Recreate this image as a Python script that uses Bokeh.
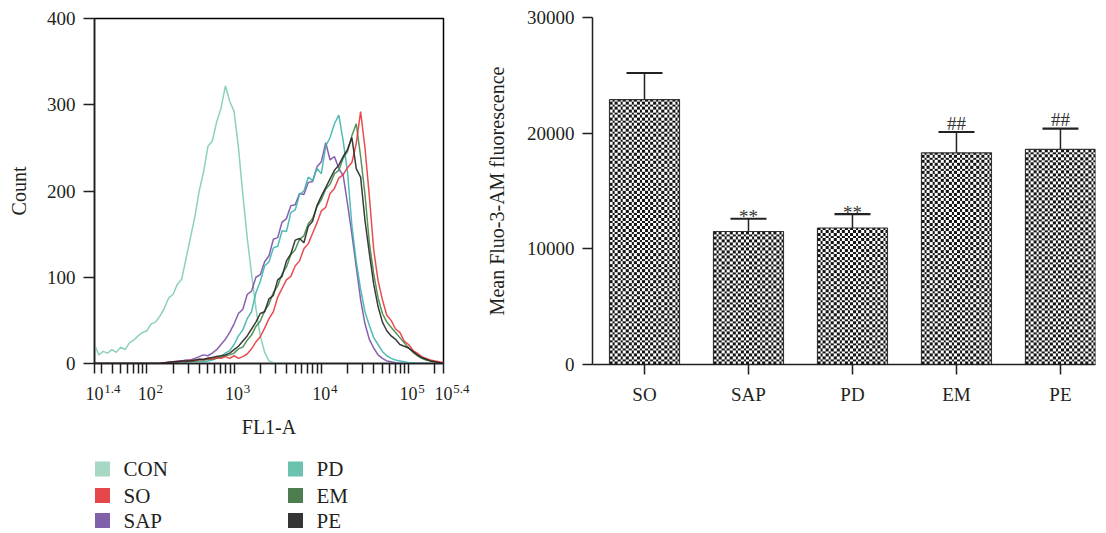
import numpy as np
from bokeh.plotting import figure
from bokeh.layouts import row, column
from bokeh.models import FixedTicker, Range1d, ColumnDataSource, Whisker, TeeHead, LogAxis
from bokeh.embed import file_html
from bokeh.resources import INLINE
from bokeh.core.properties import value

FONT = "Liberation Serif"
INK = "#231f20"
NBSP = "\u00a0"

# ---------------- Flow cytometry histogram (FL1-A, log10 bin centres) ----------------
fl1_log10 = [round(1.40 + 0.05 * i, 2) for i in range(81)]

con = [22, 10, 14, 12, 16, 13, 19, 16, 24, 27, 32, 36, 38, 46, 48, 55, 64, 76, 80, 92,
       98, 122, 146, 170, 200, 222, 252, 258, 280, 296, 322, 304, 292, 250, 196, 146,
       104, 64, 32, 13, 3, 1] + [0] * 39
so = [0] * 16 + [1, 1, 2, 2, 3, 2, 4, 3, 5, 4, 6, 5, 7, 6, 8, 6,
                 9, 6, 8, 11, 17, 25, 31, 41, 52, 60, 77, 87, 97, 101, 113, 119, 133, 139, 151, 163,
                 177, 181, 197, 203, 215, 219, 227, 233, 255, 292, 250, 194, 132, 96, 74, 56, 50, 40, 36, 26,
                 22, 15, 12, 8, 6, 4, 3, 2, 1]
sap = [0] * 16 + [1, 2, 2, 3, 3, 4, 4, 6, 8, 10, 9, 12, 16, 22, 28, 36,
                  46, 58, 63, 80, 84, 100, 103, 118, 125, 144, 146, 164, 168, 183, 184, 197, 196, 210, 211, 228,
                  234, 256, 236, 240, 226, 218, 185, 150, 112, 74, 46, 28, 18, 10, 6, 3, 2, 1, 0, 0] + [0] * 9
pd_ = [0] * 16 + [0, 0, 1, 1, 1, 1, 2, 2, 2, 2, 3, 4, 6, 8, 12, 15,
                  22, 32, 39, 52, 60, 82, 95, 113, 118, 134, 136, 154, 153, 175, 178, 196, 200, 216, 212, 226,
                  220, 252, 262, 278, 288, 258, 222, 160, 118, 86, 60, 44, 30, 22, 14, 9, 6, 4, 3, 2,
                  1, 1, 0, 0, 0, 0, 0, 0, 0]
em = [0] * 16 + [1, 1, 2, 2, 2, 3, 3, 3, 4, 4, 5, 5, 6, 7, 9, 10,
                 12, 17, 19, 27, 33, 43, 49, 61, 69, 82, 90, 104, 112, 126, 132, 144, 148, 162, 168, 182,
                 190, 202, 208, 220, 224, 238, 246, 264, 278, 240, 196, 140, 104, 76, 58, 48, 42, 36, 30, 24,
                 18, 13, 9, 6, 4, 3, 2, 1, 1]
pe = [0] * 16 + [1, 1, 2, 2, 3, 3, 3, 4, 5, 5, 6, 7, 8, 9, 10, 12,
                 16, 20, 26, 32, 40, 48, 58, 60, 75, 79, 97, 101, 119, 127, 143, 145, 140, 159, 165, 183,
                 194, 204, 214, 224, 230, 240, 248, 262, 226, 216, 166, 128, 92, 66, 48, 38, 32, 28, 22, 20,
                 18, 14, 10, 7, 5, 3, 2, 1, 0]

series_names = ["CON", "SO", "SAP", "PD", "EM", "PE"]
series_counts = [con, so, sap, pd_, em, pe]
line_colors = ["#7fcdb2", "#e8383d", "#7b4fa8", "#3db5ad", "#3f8a45", "#262626"]
legend_colors = ["#a6d8c4", "#e5474b", "#8060a8", "#6bc2ae", "#4e7d4f", "#353535"]
draw_order = ["CON", "SAP", "PD", "EM", "SO", "PE"]

x_tick_exps = [1.4, 2, 3, 4, 5, 5.4]
x_tick_exp_text = ["1.4", "2", "3", "4", "5", "5.4"]
count_ticks = [0, 100, 200, 300, 400]

# ---------------- Bar chart ----------------
groups = ["SO", "SAP", "PD", "EM", "PE"]
mean_fluo = [22900, 11500, 11800, 18300, 18600]
err_fluo = [2300, 1100, 1200, 1800, 1800]
marks = ["", "**", "**", "##", "##"]
fluo_ticks = [0, 10000, 20000, 30000]


def style_axis(ax, tick_out=10):
    ax.axis_line_color = INK
    ax.axis_line_width = 1.5
    ax.major_tick_line_color = INK
    ax.major_tick_line_width = 1.5
    ax.minor_tick_line_color = INK
    ax.minor_tick_line_width = 1.5
    ax.major_tick_in = 0
    ax.major_tick_out = tick_out
    ax.minor_tick_in = 0
    ax.minor_tick_out = tick_out
    ax.major_label_text_font = FONT
    ax.major_label_text_font_size = "19px"
    ax.major_label_text_color = INK
    ax.axis_label_text_font = FONT
    ax.axis_label_text_font_size = "20px"
    ax.axis_label_text_font_style = "normal"
    ax.axis_label_text_color = INK


# ---- left: histogram
p1 = figure(width=470, height=447, x_axis_type="log",
            x_range=Range1d(10 ** 1.4, 10 ** 5.4), y_range=Range1d(0, 400),
            output_backend="svg", toolbar_location=None,
            min_border_left=94, min_border_right=27, min_border_top=18, min_border_bottom=84)
p1.grid.visible = False
p1.outline_line_color = "black"
p1.outline_line_width = 1.5
p1.outline_line_alpha = 1

xs = [10 ** e for e in fl1_log10]
for name in draw_order:
    k = series_names.index(name)
    p1.line(xs, series_counts[k], line_color=line_colors[k], line_width=1.5, line_alpha=0.9)

major_x = [10 ** e for e in x_tick_exps]
minor_x = [m * 10 ** d for d in range(1, 6) for m in range(2, 10)
           if 10 ** 1.4 < m * 10 ** d < 10 ** 5.4]

# main axis: real ticks, base "10"
xa = p1.xaxis[0]
xa.ticker = FixedTicker(ticks=major_x, minor_ticks=minor_x)
xa.major_label_overrides = {t: "10" for t in major_x}
style_axis(xa, 10)
xa.major_label_text_font_size = "18px"
xa.major_label_standoff = 13

# second axis carrying the superscript exponents and the axis title
EXP_FS = 13
nb_w = 0.25 * EXP_FS
exp_labels = {}
for t, ex in zip(major_x, x_tick_exp_text):
    exp_w = sum(EXP_FS * (0.25 if ch == "." else 0.5) for ch in ex)
    n = int(round(2 * (9.5 + exp_w / 2) / nb_w))
    exp_labels[t] = NBSP * n + ex
xb = LogAxis(ticker=FixedTicker(ticks=major_x, minor_ticks=[]))
style_axis(xb, 0)
xb.axis_line_color = None
xb.major_tick_line_color = None
xb.minor_tick_line_color = None
xb.major_label_overrides = exp_labels
xb.major_label_text_font_size = f"{EXP_FS}px"
xb.major_label_standoff = -22
xb.axis_label = "FL1-A"
xb.axis_label_standoff = 17
p1.add_layout(xb, "below")

p1.yaxis.ticker = FixedTicker(ticks=count_ticks)
p1.yaxis.axis_label = "Count"
style_axis(p1.yaxis[0], 11)
p1.yaxis.major_label_standoff = 8
p1.yaxis.axis_label_standoff = 14

# ---- legend below histogram (frame aligned with histogram frame)
leg = figure(width=470, height=85, x_range=Range1d(0, 349), y_range=Range1d(0, 85),
             output_backend="svg", toolbar_location=None,
             min_border_left=94, min_border_right=27, min_border_top=0, min_border_bottom=0,
             x_axis_location=None, y_axis_location=None, outline_line_color=None)
leg.grid.visible = False
col_x = [8, 201]
row_y = [63.5, 37, 12]
lx = [col_x[i // 3] for i in range(6)]
ly = [row_y[i % 3] for i in range(6)]
leg.scatter(lx, ly, marker="square", size=15, fill_color=legend_colors, line_color=None)
leg.text([x + 21 for x in lx], ly, text=series_names, text_font=value(FONT),
         text_font_size="21px", text_baseline="middle", text_align="left", text_color=INK)

# ---- right: bar chart
P2_FRAME_H = 347
BAR_W = 0.673
idx = list(range(len(groups)))
p2 = figure(width=628, height=447, x_range=Range1d(-0.5, 4.337), y_range=Range1d(0, 30000),
            output_backend="svg", toolbar_location=None,
            min_border_left=122, min_border_right=3, min_border_top=17, min_border_bottom=83)
p2.grid.visible = False
p2.outline_line_color = None

# checkerboard fill texture for each bar (cells of ~2.7 px)
CELL_PX = 2.7
bar_px_w = BAR_W * 104
imgs = []
for m in mean_fluo:
    ncol = int(round(bar_px_w / CELL_PX))
    nrow = max(1, int(round(m / 30000 * P2_FRAME_H / CELL_PX)))
    yy, xx = np.mgrid[0:nrow, 0:ncol]
    chk = ((yy + xx) % 2 == 0)
    img = np.where(chk, 0xFF141414, 0xFFFFFFFF).astype(np.uint32)
    imgs.append(img)
p2.image_rgba(image=imgs, x=[i - BAR_W / 2 for i in idx], y=[0] * len(idx),
              dw=[BAR_W] * len(idx), dh=mean_fluo)

src = ColumnDataSource(dict(x=idx, top=mean_fluo,
                            upper=[m + e for m, e in zip(mean_fluo, err_fluo)], mark=marks))
p2.vbar(x="x", top="top", bottom=0, width=BAR_W, source=src,
        fill_color=None, line_color="#333333", line_width=1.2)
p2.add_layout(Whisker(source=src, base="x", upper="upper", lower="top",
                      line_color="#222222", line_width=1.5,
                      upper_head=TeeHead(size=36, line_width=2.2, line_color="#222222"),
                      lower_head=None))
mark_offsets = {"**": -2, "##": -9}
for mk, off in mark_offsets.items():
    sel = [i for i, m in enumerate(marks) if m == mk]
    p2.text([idx[i] for i in sel], [mean_fluo[i] + err_fluo[i] for i in sel],
            text=[mk] * len(sel), text_font=value(FONT), text_font_size="19px",
            text_align="center", text_baseline="alphabetic", y_offset=off, text_color="#333333")

p2.xaxis.ticker = FixedTicker(ticks=idx)
p2.xaxis.major_label_overrides = {i: g for i, g in zip(idx, groups)}
p2.yaxis.ticker = FixedTicker(ticks=fluo_ticks)
p2.yaxis.major_label_overrides = {t: str(t) for t in fluo_ticks}
p2.yaxis.axis_label = "Mean Fluo-3-AM fluorescence"
style_axis(p2.xaxis[0], 10)
style_axis(p2.yaxis[0], 10)
p2.xaxis.minor_tick_out = 0
p2.yaxis.minor_tick_out = 0
p2.xaxis.major_label_standoff = 9
p2.yaxis.major_label_standoff = 8
p2.yaxis.axis_label_standoff = 16

layout = row(column(p1, leg), p2)
open("out.html", "w").write(file_html(layout, INLINE))
